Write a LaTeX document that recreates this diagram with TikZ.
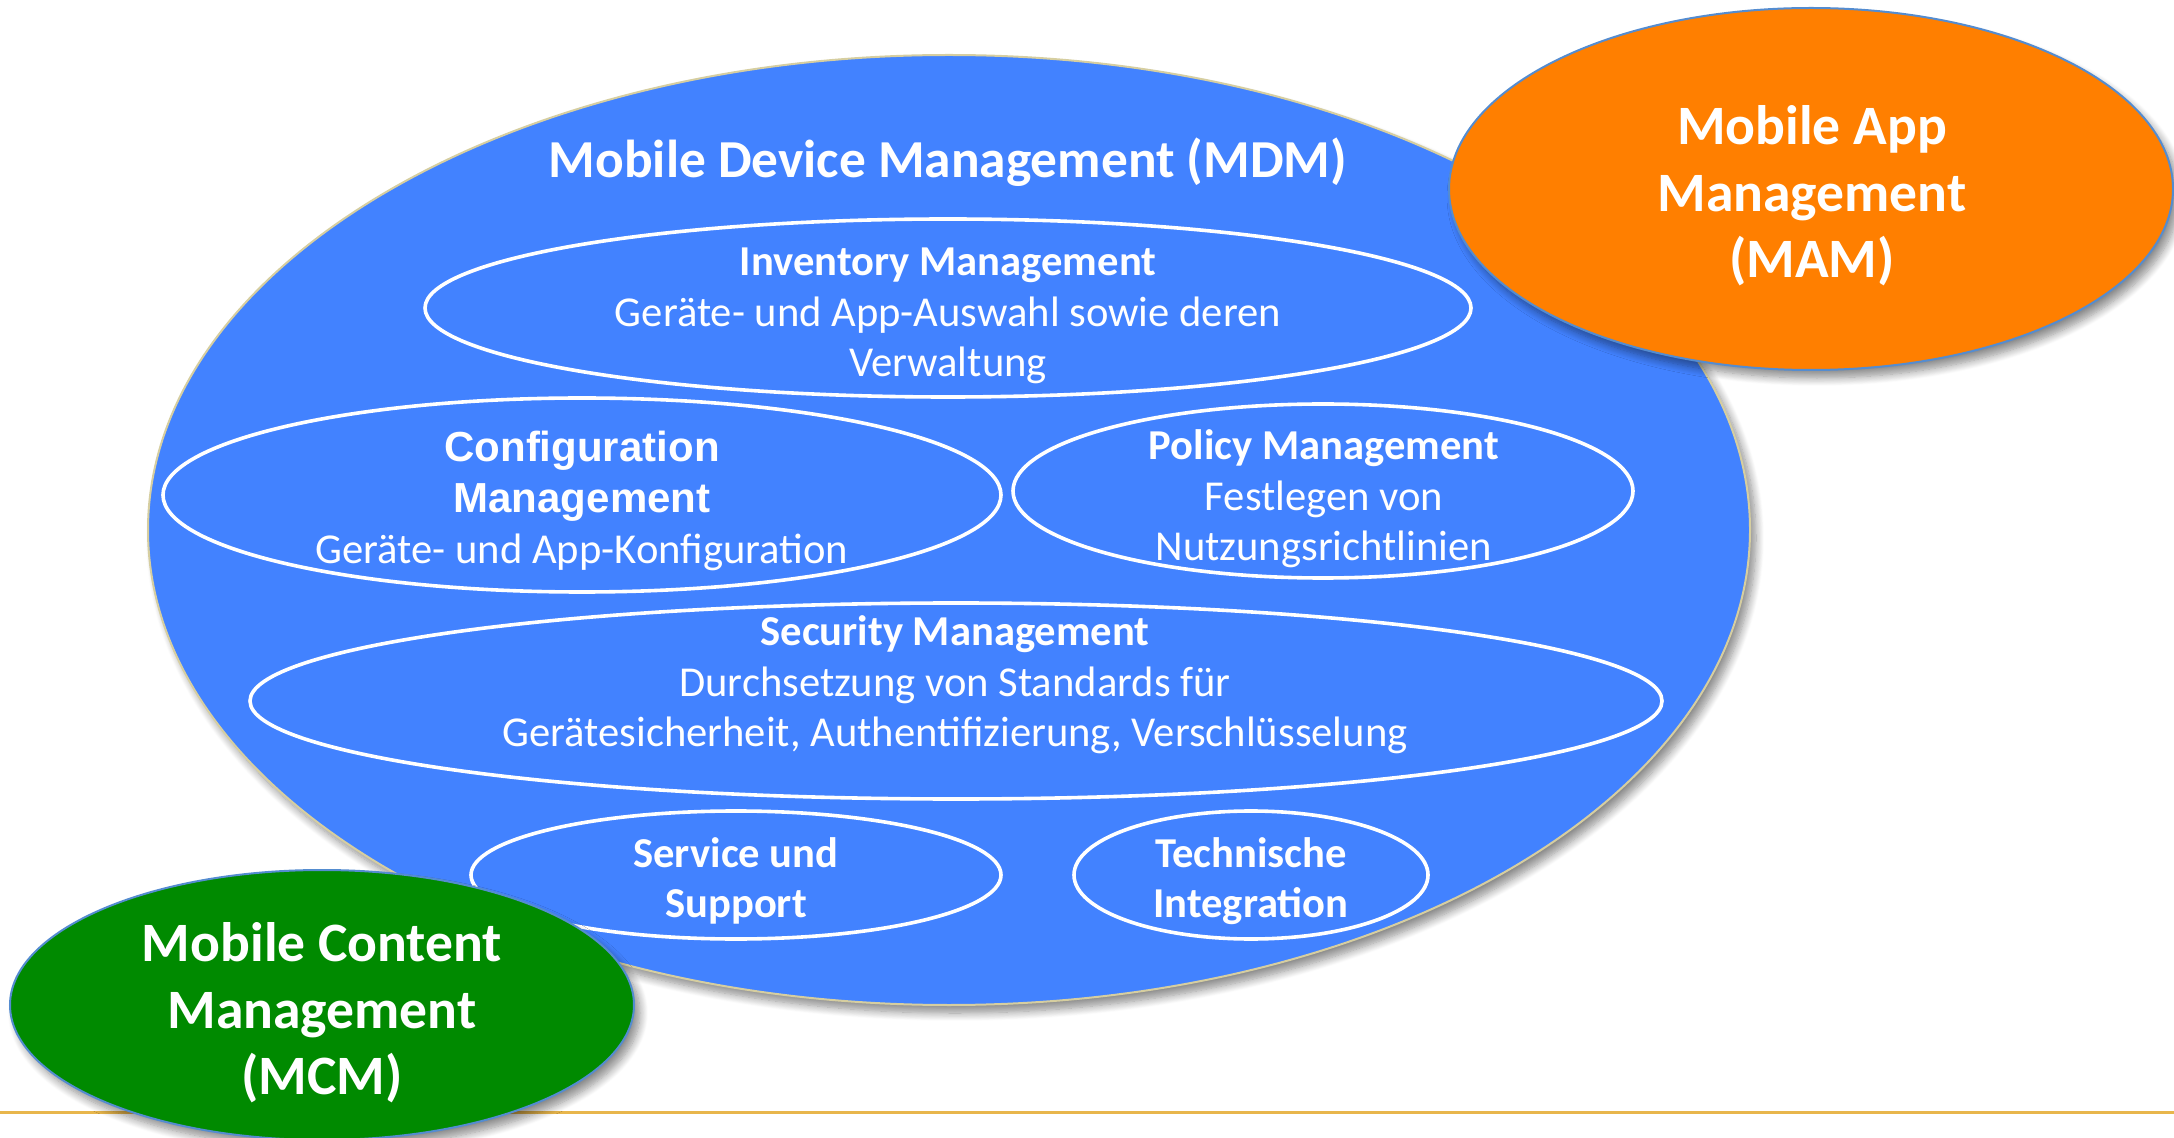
\documentclass[tikz,border=0pt]{standalone}
\usepackage{fontspec}
\setmainfont{Carlito}
\newfontfamily\arialfont{Liberation Sans}
\usetikzlibrary{shapes.geometric,shadows.blur}

\definecolor{mdmblue}{RGB}{66,130,255}
\definecolor{mamorange}{RGB}{255,127,0}
\definecolor{mcmgreen}{RGB}{0,138,0}
\definecolor{rimtan}{RGB}{214,206,160}
\definecolor{rimblue}{RGB}{84,140,208}
\definecolor{rulegold}{RGB}{232,182,76}

\newcommand\arialbold[1]{{\arialfont\bfseries\fontsize{21}{25}\selectfont #1}}

\tikzset{
  blob/.style={ellipse, inner sep=0pt, line width=1pt,
    blur shadow={shadow xshift=3pt, shadow yshift=-4pt,
      shadow blur radius=4pt, shadow blur steps=10, shadow opacity=45}},
  ring/.style={ellipse, draw=white, line width=1.8pt, inner sep=0pt},
  bigtext/.style={text=white, align=center, inner sep=0pt,
    font=\bfseries\fontsize{27.8}{33.2}\selectfont},
  smalltext/.style={text=white, align=center, inner sep=0pt,
    font=\fontsize{21.3}{25.3}\selectfont},
}

\begin{document}
\begin{tikzpicture}[x=0.5pt, y=-0.5pt]
  \useasboundingbox (0,0) rectangle (2174,1138);

  % rule along the bottom
  \coordinate (ruleL) at (0,1112);
  \coordinate (ruleR) at (2174,1112);
  \draw[rulegold, line width=1.5pt] (ruleL) -- (ruleR);

  % MDM
  \node[blob, fill=mdmblue, draw=rimtan, minimum width=801pt, minimum height=475pt] (mdm) at (949,530) {};
  \node[bigtext, font=\bfseries\fontsize{26.7}{32}\selectfont] (mdm-t) at (948,162) {Mobile Device Management (MDM)};

  % rings inside MDM
  \node[ring, minimum width=523pt, minimum height=89pt] (inv) at (948,308) {};
  \node[ring, minimum width=419pt, minimum height=97pt] (conf) at (582,495) {};
  \node[ring, minimum width=310pt, minimum height=87pt] (pol) at (1323,491) {};
  \node[ring, minimum width=706pt, minimum height=98pt] (sec) at (956,701) {};
  \node[ring, minimum width=265pt, minimum height=64pt] (serv) at (736,875) {};
  \node[ring, minimum width=177pt, minimum height=64pt] (tech) at (1251,875) {};

  % ring texts
  \node[smalltext] (inv-t) at (948,316) {\textbf{Inventory Management}\\Geräte- und App-Auswahl sowie deren\\Verwaltung};
  \node[smalltext] (conf-t) at (582,501) {\arialbold{Configuration}\\\arialbold{Management}\\Geräte- und App-Konfiguration};
  \node[smalltext] (pol-t) at (1324,499) {\textbf{Policy Management}\\Festlegen von\\Nutzungsrichtlinien};
  \node[smalltext] (sec-t) at (955,685) {\textbf{Security Management}\\Durchsetzung von Standards für\\Gerätesicherheit, Authentifizierung, Verschlüsselung};
  \node[smalltext, font=\bfseries\fontsize{21.3}{25.3}\selectfont] (serv-t) at (736,881) {Service und\\Support};
  \node[smalltext, font=\bfseries\fontsize{21.3}{25.3}\selectfont] (tech-t) at (1251,881) {Technische\\Integration};

  % MAM and MCM on top
  \node[blob, fill=mamorange, draw=rimblue, minimum width=362pt, minimum height=181pt] (mam) at (1811,189) {};
  \node[bigtext] (mam-t) at (1812,196) {Mobile App\\Management\\(MAM)};
  \node[blob, fill=mcmgreen, draw=rimblue, minimum width=312pt, minimum height=135pt] (mcm) at (322,1005) {};
  \node[bigtext] (mcm-t) at (322,1013) {Mobile Content\\Management\\(MCM)};
\end{tikzpicture}
\end{document}
